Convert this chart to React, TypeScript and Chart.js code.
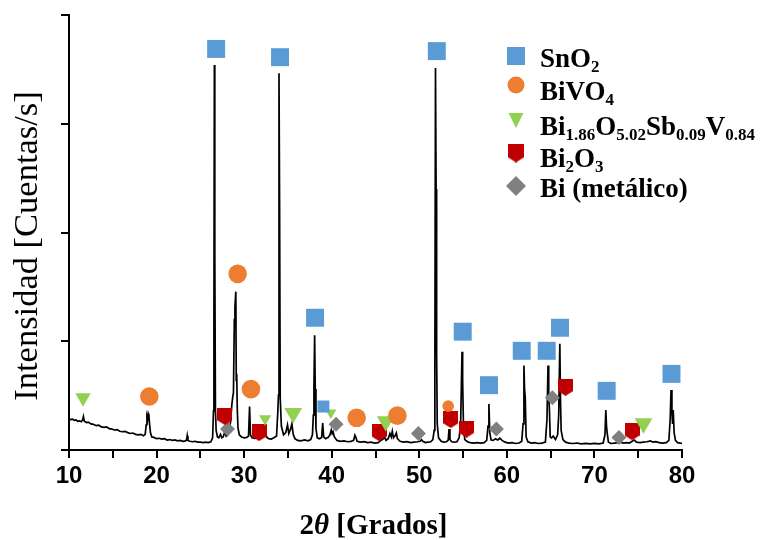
import React, { useEffect, useRef } from 'react';
import { Chart, registerables } from 'chart.js';

Chart.register(...registerables);

// ---------------- data ----------------
const xMin = 10;
const xMax = 80;
const xTickStep = 5;
const yMax = 100;
const yTickStep = 25;

// XRD pattern: [2theta, relative intensity]
const patternPoints: [number, number][] = [
  [10.0, 7.2], [10.2, 7.0], [10.4, 7.1], [10.6, 6.8], [10.8, 6.9], [11.0, 6.6], [11.2, 6.7], [11.4, 6.5],
  [11.55, 6.9], [11.65, 7.7], [11.75, 6.6], [12.0, 6.3], [12.2, 6.4], [12.5, 6.0], [12.8, 5.9], [13.1, 5.6],
  [13.4, 5.7], [13.7, 5.3], [14.0, 5.2], [14.3, 5.3], [14.6, 4.9], [14.9, 4.8], [15.2, 4.6], [15.5, 4.7],
  [15.8, 4.3], [16.1, 4.2], [16.4, 4.3], [16.7, 4.0], [17.0, 3.8], [17.3, 3.9], [17.6, 3.6], [17.9, 3.5],
  [18.2, 3.6], [18.5, 3.3], [18.7, 3.6], [18.82, 5.8], [18.9, 7.6], [18.97, 7.0], [19.05, 8.4], [19.12, 8.0],
  [19.2, 6.0], [19.3, 4.0], [19.45, 3.0], [19.7, 2.9], [20.0, 2.6], [20.3, 2.7], [20.6, 2.5], [20.9, 2.6],
  [21.2, 2.3], [21.5, 2.4], [21.8, 2.2], [22.1, 2.3], [22.4, 2.1], [22.7, 2.2], [23.0, 2.0], [23.3, 2.1],
  [23.42, 2.3], [23.5, 3.3], [23.58, 2.2], [23.8, 2.0], [24.1, 1.9], [24.4, 2.0], [24.7, 1.8], [25.0, 1.8],
  [25.3, 1.7], [25.6, 1.8], [25.9, 1.7], [26.2, 1.9], [26.4, 2.8], [26.5, 9.0], [26.55, 30], [26.6, 88.5],
  [26.65, 45], [26.72, 9.5], [26.8, 4.5], [26.95, 3.0], [27.1, 2.8], [27.3, 3.6], [27.45, 2.8], [27.6, 3.0],
  [27.8, 4.2], [27.95, 3.2], [28.1, 3.4], [28.3, 4.5], [28.45, 6.5], [28.6, 10.5], [28.7, 12.2], [28.78, 13.2],
  [28.88, 30], [28.95, 33], [29.05, 36.4], [29.1, 16], [29.15, 17.5], [29.22, 9], [29.3, 5], [29.45, 3.5],
  [29.7, 3.0], [30.0, 2.8], [30.3, 2.9], [30.5, 3.2], [30.62, 10.0], [30.72, 3.5], [30.9, 2.8], [31.2, 2.7],
  [31.5, 2.9], [31.75, 3.4], [31.95, 4.6], [32.1, 3.2], [32.3, 3.8], [32.42, 5.0], [32.55, 3.0], [32.8, 2.6],
  [33.1, 2.5], [33.4, 2.8], [33.7, 3.2], [33.85, 9.0], [33.92, 12.6], [33.98, 86.6], [34.05, 55], [34.12, 12],
  [34.25, 5.5], [34.5, 3.5], [34.75, 4.0], [34.95, 5.8], [35.1, 3.8], [35.3, 4.8], [35.45, 6.0], [35.6, 3.6],
  [35.8, 2.6], [36.1, 2.2], [36.5, 2.1], [36.9, 2.3], [37.3, 2.1], [37.6, 2.4], [37.8, 3.5], [37.9, 8],
  [37.97, 14.5], [38.05, 26.4], [38.12, 14.0], [38.2, 5], [38.35, 2.8], [38.6, 2.6], [38.85, 2.9], [38.97, 6.2],
  [39.08, 3.0], [39.3, 2.6], [39.6, 2.9], [39.8, 3.5], [39.95, 4.6], [40.05, 3.8], [40.15, 4.2], [40.3, 3.0],
  [40.6, 2.2], [41.0, 2.0], [41.4, 2.1], [41.8, 1.9], [42.2, 2.0], [42.5, 2.2], [42.65, 3.4], [42.75, 3.0],
  [42.9, 2.0], [43.3, 1.8], [43.7, 1.9], [44.1, 1.7], [44.5, 1.8], [44.9, 1.6], [45.3, 1.7], [45.6, 2.2],
  [45.85, 2.5], [46.05, 2.9], [46.2, 2.2], [46.45, 2.6], [46.65, 3.8], [46.8, 3.0], [46.92, 4.3], [47.05, 2.8],
  [47.25, 3.3], [47.38, 3.9], [47.5, 2.6], [47.8, 2.0], [48.2, 1.8], [48.6, 1.9], [49.0, 1.7], [49.4, 1.8],
  [49.8, 1.9], [50.1, 2.0], [50.25, 2.4], [50.4, 2.0], [50.7, 1.7], [51.0, 1.8], [51.3, 1.9], [51.55, 2.4],
  [51.7, 4.5], [51.78, 20], [51.85, 87.8], [51.92, 60], [51.98, 22], [52.05, 6], [52.2, 2.8], [52.5, 2.0],
  [52.8, 1.8], [53.1, 1.9], [53.3, 2.3], [53.4, 4.8], [53.5, 2.4], [53.7, 1.9], [54.0, 1.8], [54.3, 1.9],
  [54.55, 2.8], [54.72, 6], [54.8, 14], [54.88, 22.6], [54.95, 16], [55.05, 5], [55.2, 2.4], [55.5, 1.9],
  [55.8, 1.7], [56.2, 1.6], [56.6, 1.7], [57.0, 1.6], [57.4, 1.7], [57.7, 2.2], [57.85, 5.5], [57.95, 10.6],
  [58.05, 4.0], [58.2, 2.3], [58.45, 2.2], [58.7, 2.6], [58.95, 2.3], [59.2, 2.7], [59.45, 2.2], [59.8, 1.8],
  [60.2, 1.6], [60.6, 1.7], [61.0, 1.5], [61.4, 1.6], [61.7, 2.0], [61.85, 6], [61.95, 19.4], [62.02, 14],
  [62.1, 12.0], [62.2, 3], [62.4, 1.9], [62.8, 1.6], [63.2, 1.7], [63.6, 1.5], [64.0, 1.6], [64.4, 1.8],
  [64.58, 7], [64.7, 19.4], [64.78, 12], [64.85, 10], [64.95, 3], [65.1, 2.8], [65.3, 3.2], [65.55, 2.4],
  [65.8, 3.5], [65.92, 8], [66.05, 24.4], [66.12, 12], [66.2, 4.5], [66.4, 2.4], [66.7, 1.8], [67.1, 1.6],
  [67.5, 1.5], [68.0, 1.6], [68.5, 1.4], [69.0, 1.5], [69.5, 1.4], [70.0, 1.5], [70.5, 1.4], [71.0, 1.6],
  [71.2, 3.5], [71.3, 9.2], [71.38, 5.5], [71.45, 4], [71.6, 1.8], [71.9, 1.5], [72.3, 1.6], [72.7, 1.7],
  [73.0, 1.8], [73.3, 1.6], [73.7, 1.7], [74.0, 1.6], [74.3, 2.0], [74.55, 2.3], [74.8, 1.8], [75.2, 1.7],
  [75.6, 1.8], [76.0, 1.9], [76.4, 2.1], [76.7, 1.8], [77.0, 1.9], [77.4, 1.7], [77.8, 1.6], [78.2, 1.7],
  [78.5, 2.2], [78.65, 7], [78.75, 13.8], [78.85, 9], [78.92, 6], [79.0, 9.2], [79.1, 4], [79.25, 2.2],
  [79.5, 1.7], [79.8, 1.6], [80.0, 1.5],
];

// phase markers [2theta, marker height]
const sno2Marks: [number, number][] = [
  [26.8, 92.2], [34.1, 90.3], [52.0, 91.7], [38.1, 30.4], [39.05, 10.0], [54.96, 27.2],
  [57.96, 14.9], [61.7, 22.8], [64.55, 22.8], [66.07, 28.1], [71.4, 13.6], [78.8, 17.5],
];
const bivo4Marks: [number, number][] = [
  [19.17, 12.3], [29.26, 40.5], [30.78, 14.0], [42.85, 7.4], [47.5, 7.9], [53.3, 10.1],
];
const biSbVMarks: [number, number][] = [
  [11.6, 12.0], [32.4, 7.2], [35.6, 8.5], [39.9, 8.6], [46.17, 6.6], [75.6, 6.1],
];
const bi2o3Marks: [number, number][] = [
  [27.8, 7.7], [31.7, 4.0], [45.4, 4.0], [53.6, 7.0], [55.4, 4.8], [66.7, 14.4], [74.3, 4.2],
];
const biMetalMarks: [number, number][] = [
  [28.1, 4.8], [40.5, 5.9], [49.9, 3.8], [58.8, 4.8], [65.2, 12.0], [72.8, 2.9],
];

// marker radii (style, separate from the data)
const sno2Radii = [12.7, 12.7, 12.7, 12.7, 8.5, 12.7, 12.7, 12.7, 12.7, 12.7, 12.7, 12.7];
const bivo4Radii = [9.3, 9.3, 9.3, 9.3, 9.3, 5.8];
const biSbVRadii = [8.9, 7, 10.3, 6.4, 10.3, 10.3];

const legendLabels = [
  'SnO_{2}',
  'BiVO_{4}',
  'Bi_{1.86}O_{5.02}Sb_{0.09}V_{0.84}',
  'Bi_{2}O_{3}',
  'Bi (metálico)',
];
const yTitle = 'Intensidad [Cuentas/s]';
const xTitleParts = ['2', 'θ', ' [Grados]'];

// ---------------- styles ----------------
const BLUE = '#5B9BD5';
const ORANGE = '#ED7D31';
const GREEN = '#92D050';
const RED = '#C00000';
const GRAY = '#808080';
const SERIF = '"Liberation Serif", "Times New Roman", serif';

function makeShield(w: number, h: number, color: string) {
  const c = document.createElement('canvas');
  c.width = w;
  c.height = h;
  const g = c.getContext('2d')!;
  g.fillStyle = color;
  g.beginPath();
  g.moveTo(0, 0);
  g.lineTo(w, 0);
  g.lineTo(w, h * 0.72);
  g.lineTo(w / 2, h);
  g.lineTo(0, h * 0.72);
  g.closePath();
  g.fill();
  return c;
}

function drawRich(ctx: CanvasRenderingContext2D, text: string, x: number, y: number, mainFont: string, subFont: string, shift: number) {
  const parts = text.split(/(_\{[^}]*\})/).filter((p) => p.length > 0);
  let cx = x;
  for (const p of parts) {
    const m = p.match(/^_\{([^}]*)\}$/);
    if (m) {
      ctx.font = subFont;
      ctx.fillText(m[1], cx, y + shift);
      cx += ctx.measureText(m[1]).width;
    } else {
      ctx.font = mainFont;
      ctx.fillText(p, cx, y);
      cx += ctx.measureText(p).width;
    }
  }
}

function drawLegendMarker(ctx: CanvasRenderingContext2D, i: number, x: number, y: number, shield: HTMLCanvasElement) {
  ctx.save();
  ctx.beginPath();
  if (i === 0) {
    ctx.fillStyle = BLUE;
    ctx.rect(x - 9, y - 9, 18, 18);
    ctx.fill();
  } else if (i === 1) {
    ctx.fillStyle = ORANGE;
    ctx.arc(x, y, 8.5, 0, Math.PI * 2);
    ctx.fill();
  } else if (i === 2) {
    ctx.fillStyle = GREEN;
    ctx.moveTo(x - 7.5, y - 7);
    ctx.lineTo(x + 7.5, y - 7);
    ctx.lineTo(x, y + 8);
    ctx.closePath();
    ctx.fill();
  } else if (i === 3) {
    ctx.drawImage(shield, x - shield.width / 2, y - shield.height / 2);
  } else {
    ctx.fillStyle = GRAY;
    ctx.moveTo(x, y - 10);
    ctx.lineTo(x + 10, y);
    ctx.lineTo(x, y + 10);
    ctx.lineTo(x - 10, y);
    ctx.closePath();
    ctx.fill();
  }
  ctx.restore();
}

export default function App() {
  const ref = useRef<HTMLCanvasElement>(null);

  useEffect(() => {
    const canvas = ref.current;
    if (!canvas) return;
    const shieldPoint = makeShield(15, 17, RED);
    const shieldLegend = makeShield(16, 19, RED);

    const textPlugin = {
      id: 'phaseLegendAndTitles',
      afterDraw(chart: any) {
        const ctx: CanvasRenderingContext2D = chart.ctx;
        const area = chart.chartArea;
        ctx.save();
        ctx.fillStyle = '#000';
        ctx.textBaseline = 'alphabetic';
        ctx.textAlign = 'left';
        const markerY = [56, 85, 120, 153, 186];
        const baseY = [67, 100, 135, 167, 197];
        legendLabels.forEach((lab, i) => {
          drawLegendMarker(ctx, i, 516, markerY[i], shieldLegend);
          ctx.fillStyle = '#000';
          drawRich(ctx, lab, 540, baseY[i], `bold 27px ${SERIF}`, `bold 17px ${SERIF}`, 5);
        });
        // x-axis title with italic theta
        const fonts = [`bold 29px ${SERIF}`, `bold italic 29px ${SERIF}`, `bold 29px ${SERIF}`];
        let total = 0;
        xTitleParts.forEach((p, i) => {
          ctx.font = fonts[i];
          total += ctx.measureText(p).width;
        });
        let cx = (area.left + area.right) / 2 - total / 2 - 2;
        xTitleParts.forEach((p, i) => {
          ctx.font = fonts[i];
          ctx.fillText(p, cx, 534);
          cx += ctx.measureText(p).width;
        });
        // y-axis title
        ctx.translate(28, 246);
        ctx.rotate(-Math.PI / 2);
        ctx.textAlign = 'center';
        ctx.textBaseline = 'middle';
        ctx.font = `34.5px ${SERIF}`;
        ctx.fillText(yTitle, 0, 0);
        ctx.restore();
      },
    };

    const toXY = (arr: [number, number][]) => arr.map(([x, y]) => ({ x, y }));

    const chart = new Chart(canvas, {
      type: 'scatter',
      data: {
        datasets: [
          {
            label: 'SnO2',
            data: toXY(sno2Marks),
            pointStyle: 'rect',
            pointRadius: sno2Radii,
            backgroundColor: BLUE,
            borderWidth: 0,
            order: 0,
          },
          {
            label: 'BiVO4',
            data: toXY(bivo4Marks),
            pointStyle: 'circle',
            pointRadius: bivo4Radii,
            backgroundColor: ORANGE,
            borderWidth: 0,
            order: 0,
          },
          {
            label: 'Bi1.86O5.02Sb0.09V0.84',
            data: toXY(biSbVMarks),
            pointStyle: 'triangle',
            rotation: 180,
            pointRadius: biSbVRadii,
            backgroundColor: GREEN,
            borderWidth: 0,
            order: 0,
          },
          {
            label: 'Bi2O3',
            data: toXY(bi2o3Marks),
            pointStyle: shieldPoint,
            pointRadius: 8,
            backgroundColor: RED,
            borderWidth: 0,
            order: 0,
          },
          {
            label: 'Bi (metálico)',
            data: toXY(biMetalMarks),
            pointStyle: 'rectRot',
            pointRadius: 7.5,
            backgroundColor: GRAY,
            borderWidth: 0,
            order: 0,
          },
          {
            label: 'XRD',
            data: toXY(patternPoints),
            showLine: true,
            pointRadius: 0,
            borderColor: '#000',
            borderWidth: 1.7,
            tension: 0,
            order: 10,
          },
        ] as any,
      },
      options: {
        animation: false,
        responsive: true,
        maintainAspectRatio: false,
        layout: { padding: { top: 15, right: 80, left: 0, bottom: 0 } },
        plugins: {
          legend: { display: false },
          tooltip: { enabled: false },
        },
        scales: {
          x: {
            type: 'linear',
            min: xMin,
            max: xMax,
            ticks: {
              stepSize: xTickStep,
              autoSkip: false,
              maxRotation: 0,
              padding: 4,
              color: '#000',
              font: { family: '"Liberation Sans", Arial, sans-serif', size: 24, weight: 'bold' },
              callback: (v: any) => (Number(v) % 10 === 0 ? String(v) : ''),
            },
            grid: { display: true, drawOnChartArea: false, drawTicks: true, tickLength: 8, color: '#000', lineWidth: 2 },
            border: { display: true, color: '#000', width: 2 },
            afterFit: (s: any) => {
              s.height = 90;
            },
          },
          y: {
            type: 'linear',
            min: 0,
            max: yMax,
            ticks: { stepSize: yTickStep, display: false },
            grid: { display: true, drawOnChartArea: false, drawTicks: true, tickLength: 8, color: '#000', lineWidth: 2 },
            border: { display: true, color: '#000', width: 2 },
            afterFit: (s: any) => {
              s.width = 69;
            },
          },
        },
      } as any,
      plugins: [textPlugin],
    });
    return () => chart.destroy();
  }, []);

  return (
    <div style={{ position: 'absolute', left: 0, top: 0, width: 762, height: 540, background: '#fff' }}>
      <canvas ref={ref} />
    </div>
  );
}
